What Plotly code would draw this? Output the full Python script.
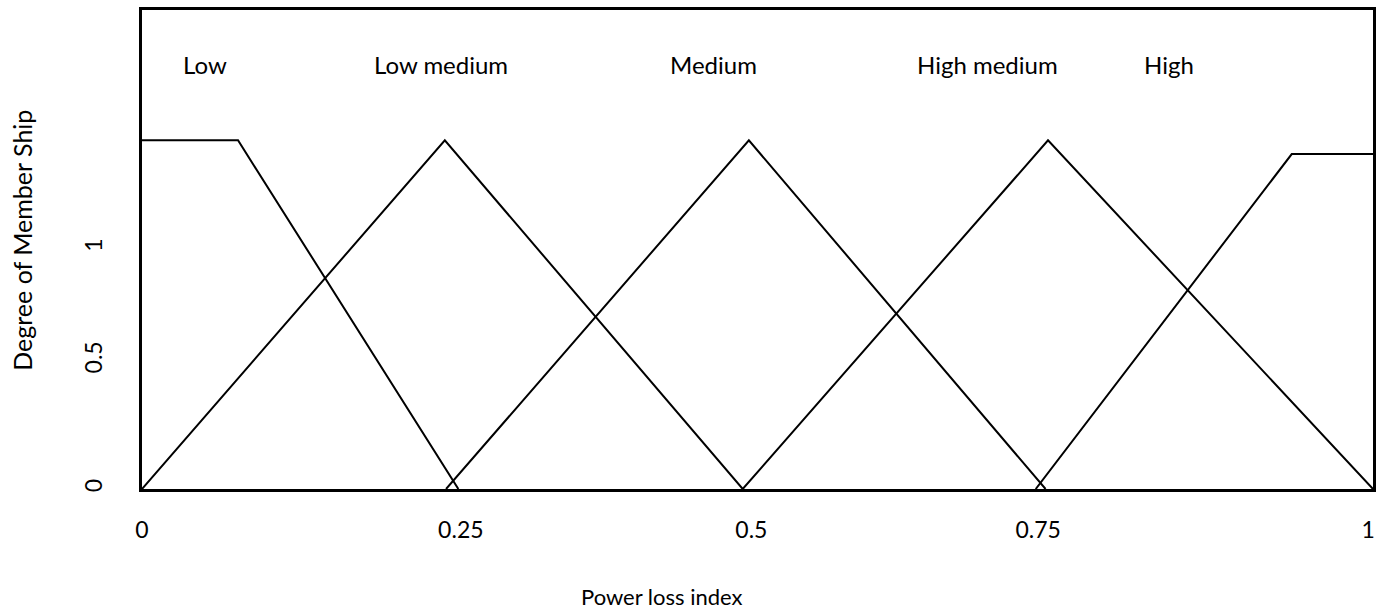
import plotly.graph_objects as go

# Membership functions (x in normalized plot units, y in membership units)
low_x = [0.0, 0.078, 0.257]
low_y = [1.45, 1.45, 0.0]
lowmed_x = [0.0, 0.246, 0.488]
lowmed_y = [0.0, 1.45, 0.0]
med_x = [0.247, 0.493, 0.734]
med_y = [0.0, 1.45, 0.0]
highmed_x = [0.488, 0.736, 1.0]
highmed_y = [0.0, 1.45, 0.0]
high_x = [0.726, 0.934, 1.0]
high_y = [0.0, 1.393, 1.393]

labels = ["Low", "Low medium", "Medium", "High medium", "High"]
label_x = [0.051, 0.2425, 0.4639, 0.687, 0.834]
label_y = 1.764

xtick_vals = [0.0, 0.259, 0.495, 0.728, 0.996]
xtick_text = ["0", "0.25", "0.5", "0.75", "1"]
ytick_vals = [0.0, 0.533, 1.0]
ytick_text = ["0", "0.5", "1"]

x_title = "Power loss index"
y_title = "Degree of Member Ship"

FONT = "Lato"
W, H = 1383, 613
ML, MR, MT, MB = 142, 8, 7, 124

fig = go.Figure()
for xs, ys in [(low_x, low_y), (lowmed_x, lowmed_y), (med_x, med_y),
               (highmed_x, highmed_y), (high_x, high_y)]:
    fig.add_trace(go.Scatter(x=xs, y=ys, mode="lines",
                             line=dict(color="black", width=2),
                             showlegend=False, hoverinfo="skip"))

for t, lx in zip(labels, label_x):
    fig.add_annotation(x=lx, y=label_y, text=t, showarrow=False,
                       xref="x", yref="y",
                       font=dict(family=FONT, size=24, color="black"))

pw, ph = W - ML - MR, H - MT - MB
def px_to_paper(px, py):
    return (px - ML) / pw, (H - MB - py) / ph

# Axis titles (offset like the original)
tx, ty = px_to_paper(663, 597)
fig.add_annotation(x=tx, y=ty, xref="paper", yref="paper", text=x_title,
                   xanchor="center", yanchor="middle", showarrow=False,
                   font=dict(family=FONT, size=22, color="black"))
tx, ty = px_to_paper(21, 239)
fig.add_annotation(x=tx, y=ty, xref="paper", yref="paper", text=y_title,
                   xanchor="center", yanchor="middle", textangle=-90,
                   showarrow=False,
                   font=dict(family=FONT, size=25, color="black"))

fig.update_layout(
    width=W, height=H,
    margin=dict(l=ML, r=MR, t=MT, b=MB),
    paper_bgcolor="white", plot_bgcolor="white",
    font=dict(family=FONT, size=23, color="black"),
)
fig.update_xaxes(range=[0, 1], showgrid=False, zeroline=False,
                 showline=True, linecolor="black", linewidth=3, mirror=True,
                 tickmode="array", tickvals=xtick_vals, ticktext=xtick_text,
                 ticks="", ticklabelstandoff=18,
                 tickfont=dict(family=FONT, size=23))
fig.update_yaxes(range=[0, 1.992], showgrid=False, zeroline=False,
                 showline=True, linecolor="black", linewidth=3, mirror=True,
                 tickmode="array", tickvals=ytick_vals, ticktext=ytick_text,
                 ticks="", tickangle=-90, ticklabelstandoff=28,
                 tickfont=dict(family=FONT, size=23))

fig.write_html("out.html", config={"displayModeBar": False},
               post_script="document.body.style.margin='0';document.body.style.overflow='hidden';")
